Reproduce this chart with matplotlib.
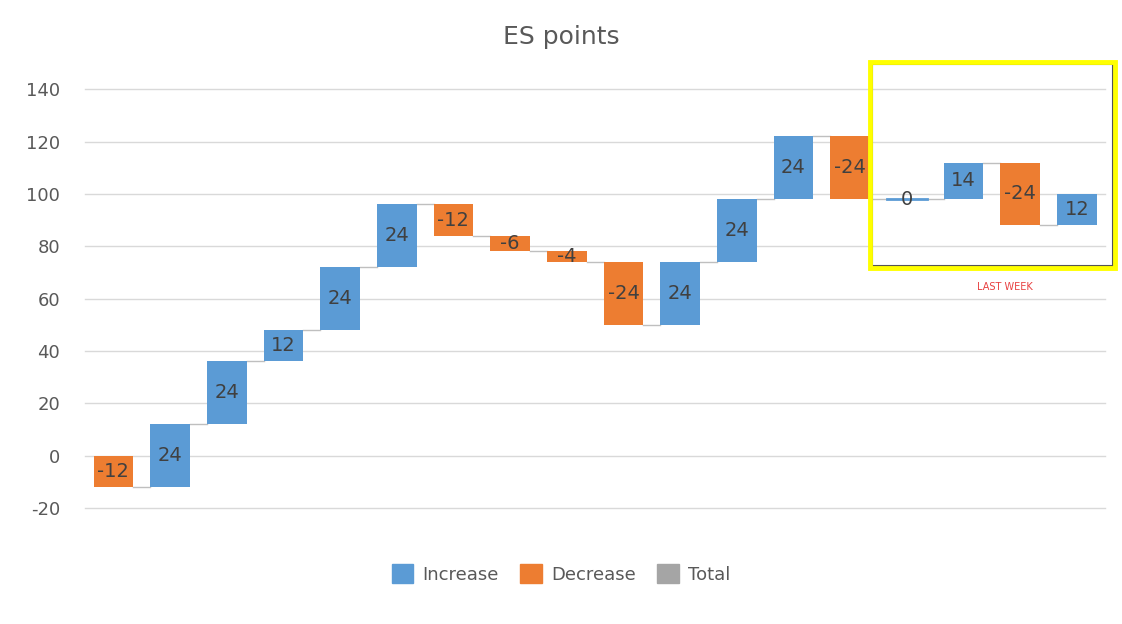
import matplotlib.pyplot as plt
from matplotlib.patches import Rectangle, Patch

deltas = [-12, 24, 24, 12, 24, 24, -12, -6, -4, -24, 24, 24, 24, -24, 0, 14, -24, 12]
y_ticks = [-20, 0, 20, 40, 60, 80, 100, 120, 140]

BLUE = "#5b9bd5"
ORANGE = "#ed7d31"
GREY = "#a5a5a5"
TEXT = "#595959"

fig = plt.figure(figsize=(11.22, 6.24), dpi=100)
ax = fig.add_axes([0.0758, 0.186, 0.9092, 0.671])

start = 0
for i, d in enumerate(deltas):
    end = start + d
    color = BLUE if d >= 0 else ORANGE
    if d == 0:
        ax.plot([i - 0.35, i + 0.35], [start, start], color=BLUE, lw=2, zorder=3)
    else:
        ax.bar(i, d, bottom=start, width=0.7, color=color, zorder=3)
    ax.text(i, (start + end) / 2, str(d), ha="center", va="center",
            fontsize=14, color="#404040", zorder=4)
    if i < len(deltas) - 1:
        ax.plot([i + 0.35, i + 0.65], [end, end], color="#bfbfbf", lw=1, zorder=2)
    start = end

ax.set_xlim(-0.5, len(deltas) - 0.5)
ax.set_ylim(-20, 140)
ax.set_yticks(y_ticks)
ax.set_yticklabels([str(t) for t in y_ticks], fontsize=13, color=TEXT)
ax.set_xticks([])
ax.tick_params(axis="y", length=0, pad=18)
ax.grid(False)
for t in y_ticks:
    ax.axhline(t, color="#d9d9d9", lw=1, zorder=0, clip_on=False)
for s in ax.spines.values():
    s.set_visible(False)

fig.text(0.5, 0.94, "ES points", ha="center", va="center", fontsize=18, color=TEXT)

# highlight box for last week
fig.patches.append(Rectangle((872 / 1122, 1 - 266 / 624), 241 / 1122, 202 / 624,
                             transform=fig.transFigure, fill=False,
                             edgecolor="#555555", lw=1.5))
fig.patches.append(Rectangle((870 / 1122, 1 - 268 / 624), 245 / 1122, 206 / 624,
                             transform=fig.transFigure, fill=False,
                             edgecolor="#ffff00", lw=3.5))
fig.text(1005 / 1122, 1 - 287 / 624, "LAST WEEK", ha="center", va="center",
         fontsize=7, color="#e84040")

handles = [Patch(color=BLUE, label="Increase"), Patch(color=ORANGE, label="Decrease"),
           Patch(color=GREY, label="Total")]
fig.legend(handles=handles, loc="center", bbox_to_anchor=(0.5, 0.08), ncol=3,
           frameon=False, fontsize=13, labelcolor=TEXT, handlelength=1.2,
           handleheight=1.2, columnspacing=1.2, handletextpad=0.5)

fig.savefig("out.png", dpi=100)
